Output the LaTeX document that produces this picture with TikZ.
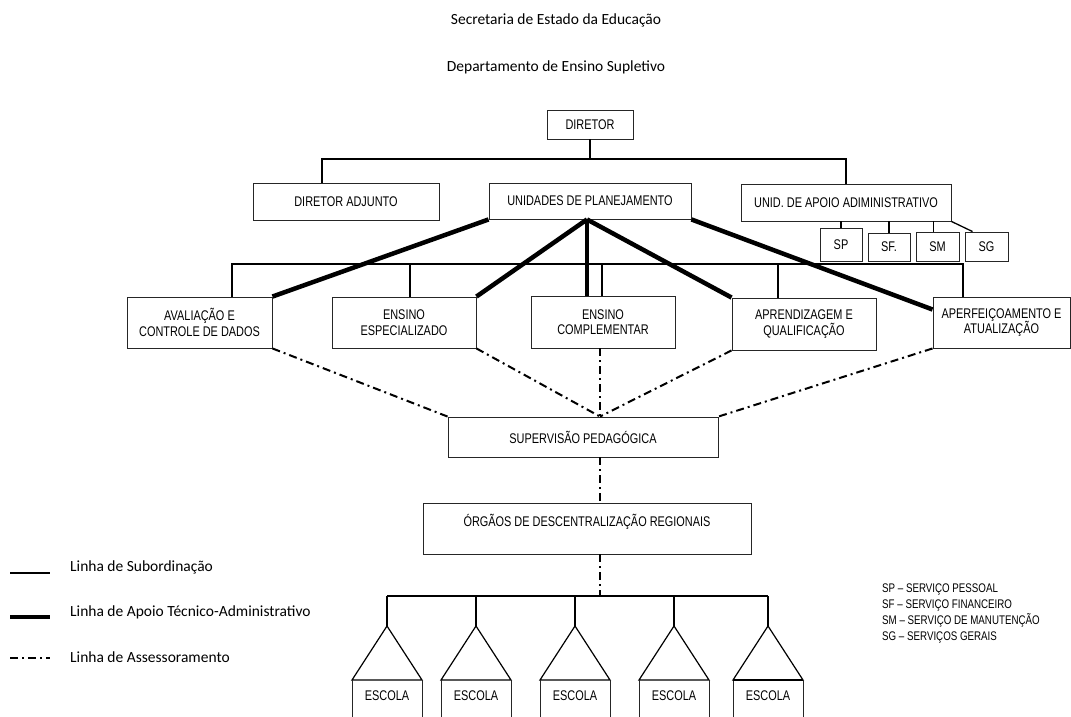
\documentclass[tikz,border=0pt]{standalone}
\usepackage{fontspec}
\setmainfont{Liberation Sans}[FakeStretch=0.78]
\newfontfamily\calibri{Carlito}
\usetikzlibrary{calc}

\tikzset{
  box/.style={draw=black!85, line width=0.9pt, inner sep=0pt, align=center,
    font=\fontsize{14}{15.5}\selectfont},
  sub/.style={line width=1.3pt},
  apoiolinha/.style={line width=4.5pt},
  assess/.style={line width=2pt, dash pattern=on 8pt off 4pt on 2pt off 4pt},
  title/.style={font=\calibri\fontsize{15.5}{18}\selectfont},
  esctext/.style={font=\fontsize{14}{15.5}\selectfont},
}

\begin{document}
\begin{tikzpicture}[x=1pt,y=-1pt]
  \useasboundingbox (0,0) rectangle (1071,717);
  \fill[white] (0,0) rectangle (1071,717);
  % titles
  \node[title] (sec) at (556,20) {Secretaria de Estado da Educação};
  \node[title] (dep) at (556,67) {Departamento de Ensino Supletivo};
  % upper level
  \node[box, minimum width=86pt, minimum height=29pt] (dir) at (590,124.5) {DIRETOR};
  \node[box, minimum width=186pt, minimum height=37pt] (adj) at (346,201.5) {DIRETOR ADJUNTO};
  \node[box, minimum width=202pt, minimum height=36pt] (unid) at (590,201) {UNIDADES DE PLANEJAMENTO};
  \node[box, minimum width=210pt, minimum height=37pt] (apoio) at (846,202.5) {UNID. DE APOIO ADIMINISTRATIVO};
  \node[box, minimum width=42pt, minimum height=33pt] (sp) at (841,244.5) {SP};
  \node[box, minimum width=42pt, minimum height=28pt] (sf) at (889,247) {SF.};
  \node[box, minimum width=43pt, minimum height=29pt] (sm) at (937.5,246.5) {SM};
  \node[box, minimum width=43pt, minimum height=29pt] (sg) at (986.5,246.5) {SG};
  % units
  \node[box, minimum width=145pt, minimum height=51pt] (aval) at (199.5,322.5) {AVALIAÇÃO E\\CONTROLE DE DADOS};
  \node[box, minimum width=144pt, minimum height=51pt] (espec) at (404,322.5) {ENSINO\\ESPECIALIZADO};
  \node[box, minimum width=144pt, minimum height=52pt] (compl) at (603,322) {ENSINO\\COMPLEMENTAR};
  \node[box, minimum width=144pt, minimum height=52pt] (aprend) at (804,324) {APRENDIZAGEM E\\QUALIFICAÇÃO};
  \node[box, minimum width=137pt, minimum height=51pt] (aperf) at (1001.5,322.5) {APERFEIÇOAMENTO E\\ATUALIZAÇÃO};
  \node[box, minimum width=270pt, minimum height=40pt] (superv) at (583,437) {SUPERVISÃO PEDAGÓGICA};
  \node[box, minimum width=328pt, minimum height=51pt] (orgaos) at (587,528.5) {ÓRGÃOS DE DESCENTRALIZAÇÃO REGIONAIS\\\mbox{}};

  % subordination lines
  \coordinate (bus1) at (322,159);
  \draw[sub] (dir.south) -- (dir.south |- bus1);
  \draw[sub] (adj.north -| bus1) -- (bus1) -- (bus1 -| apoio.north) -- (apoio.north);
  \draw[sub] (apoio.south -| sp.north) -- (sp.north);
  \draw[sub] (apoio.south -| sf.north) -- (sf.north);
  \draw[sub] ([xshift=-4pt]sm.north |- apoio.south) -- ([xshift=-4pt]sm.north);
  \draw[sub] (apoio.south east) -- ([xshift=-14pt]sg.north);
  \coordinate (bus2w) at (232,264);
  \coordinate (bus2e) at (963,264);
  \draw[sub] (aval.north -| bus2w) -- (bus2w) -- (bus2e) -- (aperf.north -| bus2e);
  \draw[sub] ([xshift=6pt]espec.north) -- ([xshift=6pt]espec.north |- bus2w);
  \draw[sub] ([xshift=-1pt]compl.north) -- ([xshift=-1pt]compl.north |- bus2w);
  \draw[sub] ([xshift=-26pt]aprend.north) -- ([xshift=-26pt]aprend.north |- bus2w);

  % technical support lines
  \coordinate (hub) at ([xshift=-3pt]unid.south);
  \draw[apoiolinha] (unid.south west) -- (aval.north east);
  \draw[apoiolinha] (hub) -- (espec.north east);
  \draw[apoiolinha] (hub) -- (hub |- compl.north);
  \draw[apoiolinha] (hub) -- (aprend.north west);
  \draw[apoiolinha] (unid.south east) -- ([yshift=13pt]aperf.west);

  % advisory lines
  \coordinate (svtop) at ([xshift=17pt]superv.north);
  \draw[assess] (aval.south east) -- (superv.north west);
  \draw[assess] (espec.south east) -- (svtop);
  \draw[assess] (compl.south -| svtop) -- (svtop);
  \draw[assess] (aprend.south west) -- (svtop);
  \draw[assess] (aperf.south west) -- (superv.north east);
  \draw[assess] (superv.south -| svtop) -- (orgaos.north -| svtop);
  \coordinate (bus3w) at (387,596);
  \coordinate (bus3e) at (768,596);
  \draw[assess] (orgaos.south -| svtop) -- (bus3w -| svtop);
  \draw[sub] (bus3w) -- (bus3e);

  % schools
  \foreach \i/\cx in {1/387,2/476,3/575,4/674,5/768}{
    \coordinate (apex\i) at (\cx,626);
    \draw[sub] (apex\i |- bus3w) -- (apex\i);
    \draw[line width=1.2pt, line join=miter] (apex\i) -- (\cx-35,680) -- (\cx+35,680) -- cycle;
    \draw[line width=0.9pt, black!85] (\cx-35,680) -- (\cx-35,725) (\cx+35,680) -- (\cx+35,725);
    \node[esctext] (esc\i) at (\cx,696) {ESCOLA};
  }
  \draw[line width=2.5pt] (733,680) -- (803,680);

  % legend
  \draw[sub] (10,573) -- (50,573);
  \node[title, anchor=west, inner sep=0pt] (leg1) at (70,567) {Linha de Subordinação};
  \draw[apoiolinha] (10,617) -- (50,617);
  \node[title, anchor=west, inner sep=0pt] (leg2) at (70,612) {Linha de Apoio Técnico-Administrativo};
  \draw[assess] (10,658) -- (50,658);
  \node[title, anchor=west, inner sep=0pt] (leg3) at (70,657) {Linha de Assessoramento};
  \node[anchor=north west, align=left, inner sep=0pt, font=\fontsize{12.5}{16}\selectfont] (siglas) at (882,584)
    {SP – SERVIÇO PESSOAL\\SF – SERVIÇO FINANCEIRO\\SM – SERVIÇO DE MANUTENÇÃO\\SG – SERVIÇOS GERAIS};
\end{tikzpicture}
\end{document}
